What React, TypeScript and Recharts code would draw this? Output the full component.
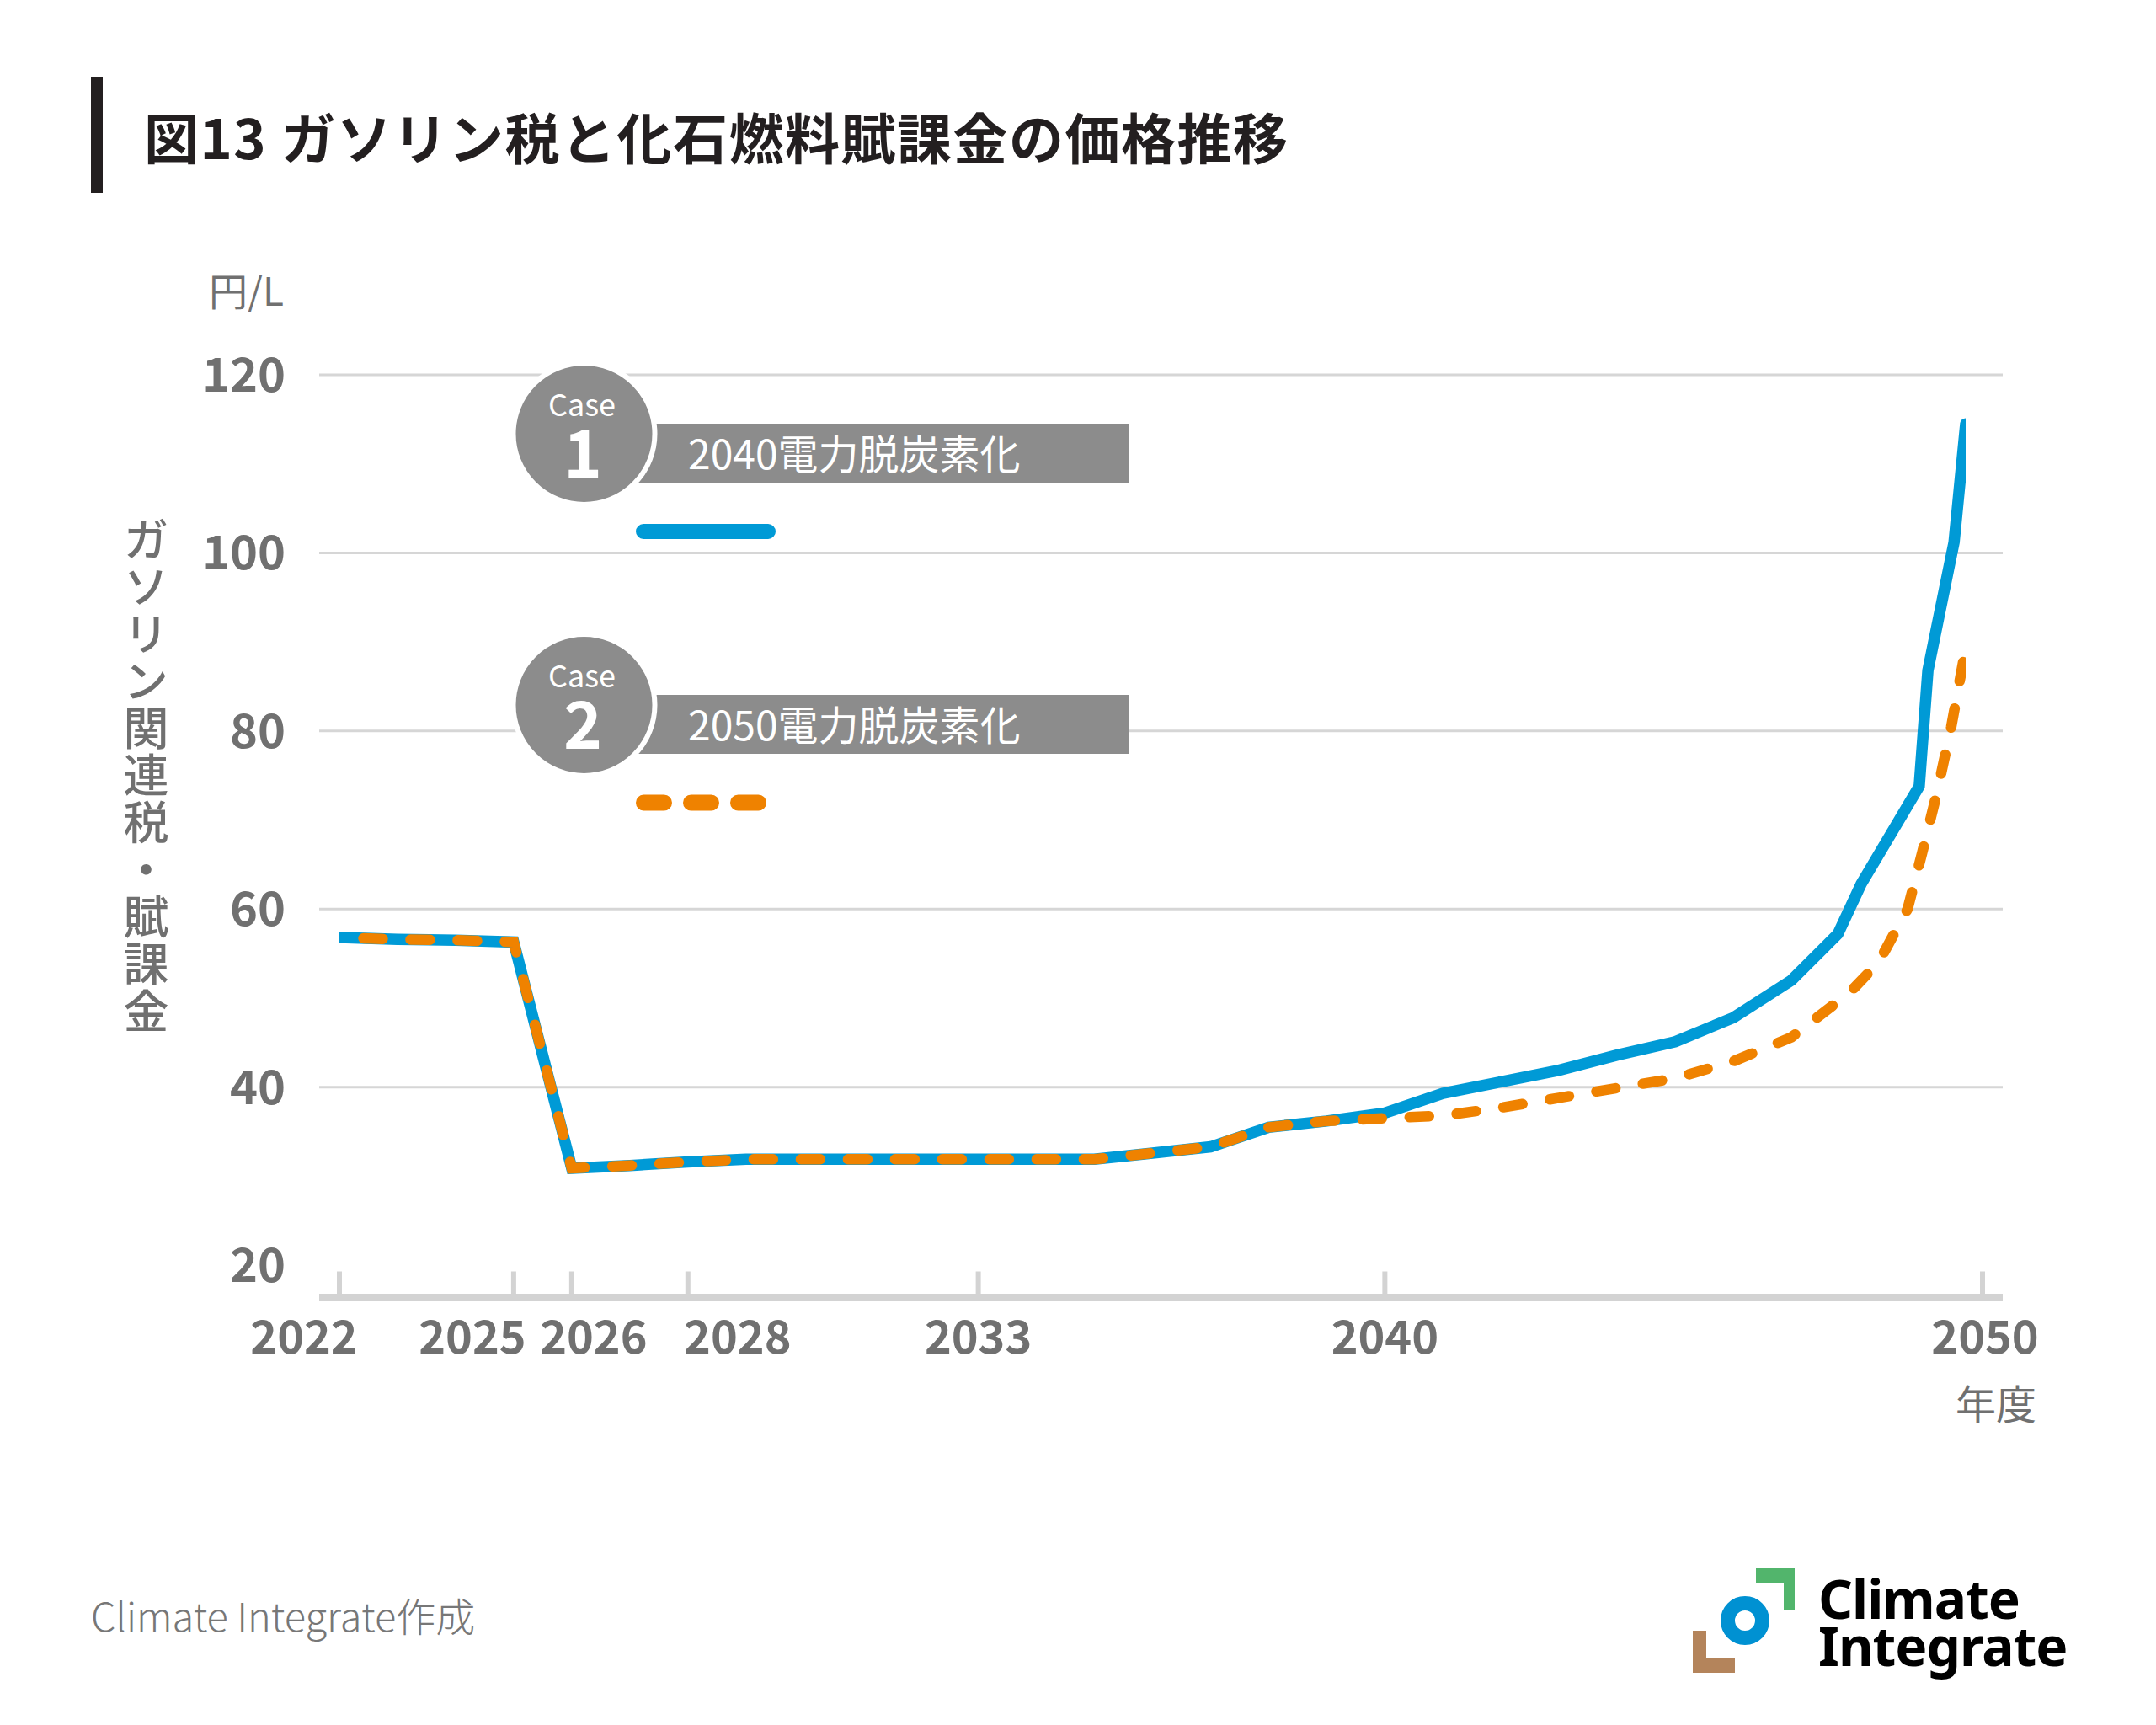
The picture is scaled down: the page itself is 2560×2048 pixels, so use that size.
import React from 'react';
import { LineChart, Line, XAxis, YAxis, ReferenceLine } from 'recharts';

// ---------- data ----------
const CASE1_YEARS = [
  2022, 2023, 2024, 2025, 2026, 2027, 2028, 2029, 2030, 2031, 2032, 2033, 2034, 2035,
  2036, 2037, 2038, 2039, 2040, 2041, 2042, 2043, 2044, 2045, 2046, 2047, 2047.8,
  2048.2, 2049.2, 2049.35, 2049.8, 2050,
];
const CASE1_VALUES = [
  56.8, 56.6, 56.5, 56.3, 30.9, 31.2, 31.6, 31.9, 31.9, 31.9, 31.9, 31.9, 31.9, 31.9,
  32.6, 33.3, 35.5, 36.2, 37.1, 39.3, 40.6, 41.9, 43.6, 45.1, 47.8, 52.0, 57.2,
  62.8, 73.8, 86.8, 101.2, 114.5,
];
const CASE2_YEARS = [
  2022, 2023, 2024, 2025, 2026, 2027, 2028, 2029, 2030, 2031, 2032, 2033, 2034, 2035,
  2036, 2037, 2038, 2039, 2040, 2041, 2042, 2043, 2044, 2045, 2046, 2047, 2048,
  2048.5, 2049, 2049.25, 2049.5, 2049.75, 2050,
];
const CASE2_VALUES = [
  56.8, 56.6, 56.5, 56.3, 30.9, 31.2, 31.6, 31.9, 31.9, 31.9, 31.9, 31.9, 31.9, 31.9,
  32.6, 33.3, 35.5, 36.2, 36.5, 36.8, 37.7, 38.8, 39.9, 41.0, 42.9, 45.6, 50.6,
  54.0, 60.0, 66.3, 72.9, 80.4, 89.3,
];
const X_TICKS = [2022, 2025, 2026, 2028, 2033, 2040, 2050];
const Y_TICKS = [20, 40, 60, 80, 100, 120];
const GRID_VALUES = [40, 60, 80, 100, 120];

const TITLE = '図13 ガソリン税と化石燃料賦課金の価格推移';
const Y_UNIT = '円/L';
const Y_LABEL = 'ガソリン関連税・賦課金';
const X_LABEL = '年度';
const CASE_WORD = 'Case';
const LEGEND_NUMBERS = ['1', '2'];
const LEGEND_LABELS = ['2040電力脱炭素化', '2050電力脱炭素化'];
const SOURCE = 'Climate Integrate作成';
const LOGO_LINES = ['Climate', 'Integrate'];

const case1Data = CASE1_YEARS.map((year, i) => ({ year, value: CASE1_VALUES[i] }));
const case2Data = CASE2_YEARS.map((year, i) => ({ year, value: CASE2_VALUES[i] }));

// ---------- style ----------
const FONT = '"Noto Sans CJK JP", "Noto Sans", sans-serif';
const GRAY_TEXT = '#707070';
const BLUE = '#009ad6';
const ORANGE = '#ef8200';
const BADGE = '#8c8c8c';
const AXIS_GRAY = '#d3d3d3';

const TICK_LABEL_DX: Record<number, number> = { 2022: -42, 2025: -49, 2026: 26, 2028: 59, 2050: 23 };
const TICK_MARK_DX: Record<number, number> = { 2050: 20 };

const XTick = (props: any) => {
  const { x, y, payload } = props;
  const v = payload.value as number;
  const mdx = TICK_MARK_DX[v] ?? 0;
  const ldx = TICK_LABEL_DX[v] ?? 0;
  return (
    <g>
      <line x1={x + mdx} x2={x + mdx} y1={y - 31} y2={y - 4} stroke={AXIS_GRAY} strokeWidth={6} />
      <text
        x={x + ldx}
        y={y + 66}
        textAnchor="middle"
        fill={GRAY_TEXT}
        fontSize={54}
        fontWeight={700}
        fontFamily={FONT}
      >
        {v}
      </text>
    </g>
  );
};

const Badge = ({ cy, num, label, kind }: { cy: number; num: string; label: string; kind: 'solid' | 'dash' }) => {
  const rectTop = cy - 12;
  const lineY = cy + 116;
  return (
    <g>
      <rect x={755} y={rectTop} width={586} height={70} fill={BADGE} />
      <circle cx={693.5} cy={cy} r={84} fill={BADGE} stroke="#fff" strokeWidth={6} />
      <text x={691} y={cy - 21} textAnchor="middle" fill="#fff" fontSize={36} fontFamily={FONT}>
        {CASE_WORD}
      </text>
      <text x={692} y={cy + 52} textAnchor="middle" fill="#fff" fontSize={78} fontWeight={700} fontFamily={FONT}>
        {num}
      </text>
      <text x={817} y={rectTop + 54} fill="#fff" fontSize={48} fontFamily={FONT}>
        {label}
      </text>
      {kind === 'solid' ? (
        <line x1={764} x2={912} y1={lineY} y2={lineY} stroke={BLUE} strokeWidth={18} strokeLinecap="round" />
      ) : (
        <line
          x1={764.5}
          x2={901}
          y1={lineY}
          y2={lineY}
          stroke={ORANGE}
          strokeWidth={19}
          strokeLinecap="round"
          strokeDasharray="24 32"
        />
      )}
    </g>
  );
};

export default function App() {
  return (
    <div
      style={{
        position: 'absolute',
        left: 0,
        top: 0,
        width: 2560,
        height: 2048,
        background: '#ffffff',
        fontFamily: FONT,
        overflow: 'hidden',
      }}
    >
      <div style={{ position: 'absolute', left: 0, top: 0 }}>
        <LineChart width={2560} height={2048} margin={{ top: 445, right: 182, left: 0, bottom: 0 }}>
          {GRID_VALUES.map((g) => (
            <ReferenceLine key={g} y={g} stroke="#d6d6d6" strokeWidth={3} />
          ))}
          <XAxis
            dataKey="year"
            type="number"
            domain={[2022, 2050]}
            ticks={X_TICKS}
            interval={0}
            padding={{ left: 24, right: 44 }}
            height={507.5}
            tickSize={0}
            tickMargin={0}
            tickLine={false}
            axisLine={{ stroke: AXIS_GRAY, strokeWidth: 9 }}
            tick={<XTick />}
            allowDataOverflow
          />
          <YAxis
            type="number"
            domain={[16.37, 120]}
            ticks={Y_TICKS}
            interval={0}
            width={379}
            axisLine={false}
            tickLine={false}
            tickSize={0}
            tickMargin={40}
            allowDataOverflow
            tick={{ fill: GRAY_TEXT, fontSize: 56, fontWeight: 700, fontFamily: FONT }}
          />
          <Line
            data={case1Data}
            dataKey="value"
            type="linear"
            stroke={BLUE}
            strokeWidth={13.5}
            strokeLinecap="round"
            dot={false}
            activeDot={false}
            isAnimationActive={false}
          />
          <Line
            data={case2Data}
            dataKey="value"
            type="linear"
            stroke={ORANGE}
            strokeWidth={12.5}
            strokeLinecap="round"
            strokeDasharray="23 33"
            strokeDashoffset={27.5}
            dot={false}
            activeDot={false}
            isAnimationActive={false}
          />
        </LineChart>
      </div>

      <svg
        width={2560}
        height={2048}
        style={{ position: 'absolute', left: 0, top: 0, pointerEvents: 'none' }}
      >
        <rect x={108} y={92} width={14} height={137} fill="#231f20" />
        <text x={171} y={189} fill="#231f20" fontSize={65} fontWeight={700} letterSpacing={1.5} fontFamily={FONT}>
          {TITLE}
        </text>
        <text x={248} y={363} fill={GRAY_TEXT} fontSize={46} fontFamily={FONT}>
          {Y_UNIT}
        </text>
        <text x={2370} y={1685} textAnchor="middle" fill={GRAY_TEXT} fontSize={48} fontFamily={FONT}>
          {X_LABEL}
        </text>

        <Badge cy={515} num={LEGEND_NUMBERS[0]} label={LEGEND_LABELS[0]} kind="solid" />
        <Badge cy={837} num={LEGEND_NUMBERS[1]} label={LEGEND_LABELS[1]} kind="dash" />

        <text x={108} y={1937} fill="#777777" fontSize={47} fontWeight={300} fontFamily={FONT}>
          {SOURCE}
        </text>

        {/* logo */}
        <path d="M2085 1862 H2131 V1912 H2118 V1879 H2085 Z" fill="#52b56c" />
        <circle cx={2072} cy={1924} r={20.5} fill="none" stroke="#0091d2" strokeWidth={17} />
        <path d="M2010 1936 H2026 V1969 H2060 V1986 H2010 Z" fill="#b4845b" />
        <text x={2159} y={1922} fill="#000" fontSize={64} fontWeight={700} letterSpacing={-1} fontFamily='"Noto Sans", sans-serif'>
          {LOGO_LINES[0]}
        </text>
        <text x={2159} y={1978} fill="#000" fontSize={64} fontWeight={700} letterSpacing={-1} fontFamily='"Noto Sans", sans-serif'>
          {LOGO_LINES[1]}
        </text>
      </svg>

      <div
        style={{
          position: 'absolute',
          left: 146,
          top: 613,
          width: 54,
          writingMode: 'vertical-rl',
          fontSize: 54,
          lineHeight: '54px',
          letterSpacing: 2,
          color: GRAY_TEXT,
          fontFamily: FONT,
          fontWeight: 500,
          whiteSpace: 'nowrap',
        }}
      >
        {Y_LABEL}
      </div>
    </div>
  );
}
